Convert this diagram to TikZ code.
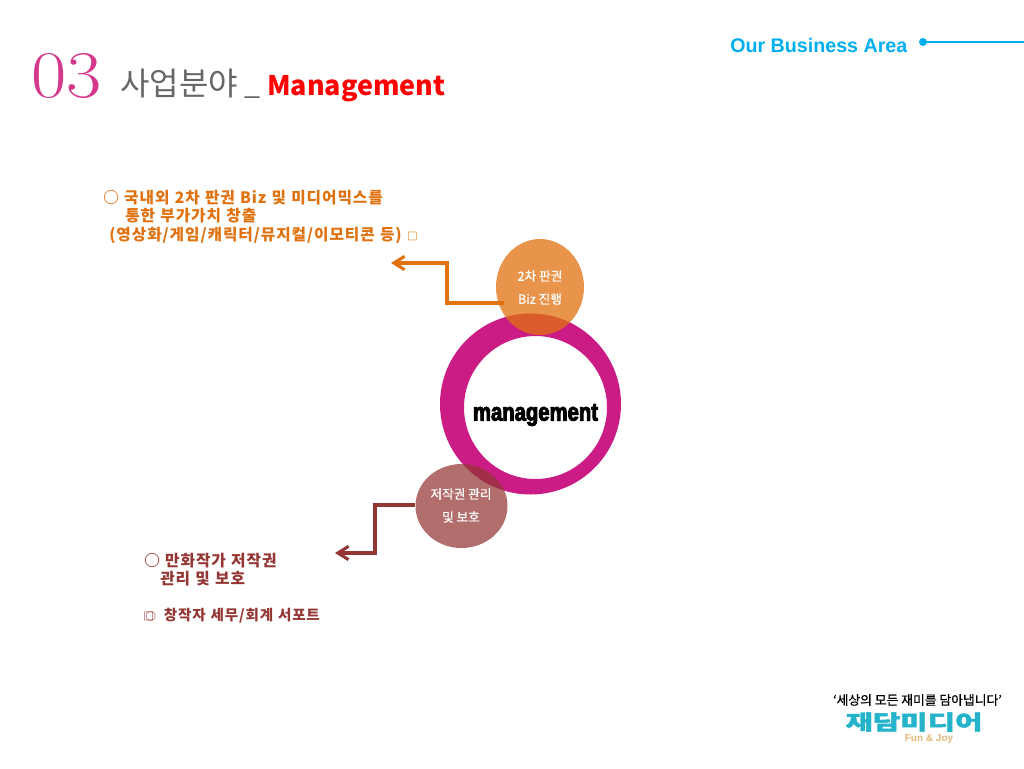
\documentclass[tikz,border=0pt]{standalone}
\usepackage{fontspec}
\usepackage{xcolor}
\usetikzlibrary{arrows.meta}
\newfontfamily\krfont{Noto Sans CJK KR}
\newfontfamily\krwide{Noto Sans CJK KR}[LetterSpace=6,WordSpace=1.15]
\newfontfamily\krwhite{Noto Sans CJK KR}[FakeBold=0.6]
\newfontfamily\krslogan{Noto Sans CJK KR}[FakeBold=0.8]
\newfontfamily\areafont{Liberation Sans}
\newfontfamily\heavyfont{Liberation Sans}[FakeStretch=0.8,FakeBold=3.5]
\newfontfamily\logofont{Noto Sans CJK KR}[FakeStretch=1.44,FakeBold=2]
\definecolor{areablue}{HTML}{00AEEF}
\definecolor{numpink}{HTML}{D4388C}
\definecolor{ringpink}{HTML}{CB1C85}
\definecolor{bizorange}{HTML}{E0710F}
\definecolor{rightsbrown}{HTML}{943634}
\definecolor{logoteal}{HTML}{25B3CB}
\definecolor{logotan}{HTML}{E3B778}
\newcommand{\smallbox}{{\fontsize{8}{9}\selectfont □}}
\tikzset{
    orangetext/.style={anchor=west, inner sep=0pt, text=bizorange, font=\krwide\bfseries\fontsize{11.8}{13}\selectfont},
    browntext/.style={anchor=west, inner sep=0pt, text=rightsbrown, font=\krwide\bfseries\fontsize{11.8}{13}\selectfont},
    whitetext/.style={inner sep=0pt, text=white, font=\krwhite\fontsize{9.5}{11}\selectfont},
    elbow/.style={line width=2.3pt, -{Straight Barb[length=8pt,width=10pt,line width=2.3pt]}}
}
\begin{document}
\begin{tikzpicture}[x=0.75pt,y=-0.75pt]
    \useasboundingbox (0,0) rectangle (1024,768);

    % Heading
    \node[anchor=base west, inner sep=0pt, text=numpink, font=\fontsize{50}{60}\selectfont] (num) at (31,97) {\scalebox{1.15}[1]{03}};
    \node[anchor=base west, inner sep=0pt, text=black!60, font=\krfont\fontsize{24}{28}\selectfont] (title) at (120,95) {사업분야};
    \node[anchor=base west, inner sep=0pt, text=black!60, font=\krfont\fontsize{21.5}{24}\selectfont] (dash) at (244,94) {\_};
    \node[anchor=base west, inner sep=0pt, text=red, font=\krfont\bfseries\fontsize{20.2}{24}\selectfont] (mgmt) at (267,95) {Management};

    % Top right tag
    \node[anchor=base west, inner sep=0pt, text=areablue, font=\areafont\bfseries\fontsize{14.75}{18}\selectfont] (area) at (730,52) {Our Business Area};
    \fill[areablue] (923,42) circle (4) coordinate (areadot);
    \coordinate (areaend) at (1024,42);
    \draw[areablue, line width=1pt] (areadot) -- (areaend);

    % Ring
    \fill[ringpink, even odd rule] (530.5,404) circle (90.5) (535.5,407.5) circle (71.5);
    \node[inner sep=0pt, font=\heavyfont\bfseries\fontsize{19}{22}\selectfont] (center) at (535.5,415) {management};

    % Satellites
    \fill[bizorange, opacity=0.75] (540,287) ellipse (44 and 48);
    \fill[rightsbrown, opacity=0.72] (461.5,506) ellipse (46 and 42);
    \node[whitetext] (biza) at (540,276) {2차 판권};
    \node[whitetext] (bizb) at (540,299) {Biz 진행};
    \node[whitetext] (rightsa) at (461,494) {저작권 관리};
    \node[whitetext] (rightsb) at (461,517) {및 보호};

    % Elbow arrows
    \coordinate (bizstart) at (504,303);
    \coordinate (bizknee) at (447,303);
    \coordinate (bizbend) at (447,263);
    \coordinate (bizend) at (391,263);
    \draw[elbow, bizorange] (bizstart) -- (bizknee) -- (bizbend) -- (bizend);
    \coordinate (rightsstart) at (415,505);
    \coordinate (rightsknee) at (375,505);
    \coordinate (rightsbend) at (375,553);
    \coordinate (rightsend) at (335,553);
    \draw[elbow, rightsbrown] (rightsstart) -- (rightsknee) -- (rightsbend) -- (rightsend);

    % Orange text
    \node[orangetext] (bizlinea) at (103,198) {○ 국내외 2차 판권 Biz 및 미디어믹스를};
    \node[orangetext] (bizlineb) at (125,216) {통한 부가가치 창출};
    \node[orangetext] (bizlinec) at (109,235) {(영상화/게임/캐릭터/뮤지컬/이모티콘 등) \smallbox};

    % Brown text
    \node[browntext] (rightslinea) at (144,561) {○ 만화작가 저작권};
    \node[browntext] (rightslineb) at (160,579) {관리 및 보호};
    \node[browntext, font=\krwide\bfseries\fontsize{10.9}{13}\selectfont] (rightslinec) at (143,616) {\smallbox\hspace{-6.5pt}{\fontsize{8}{9}\selectfont ○}\hspace{6pt}창작자 세무/회계 서포트};

    % Logo
    \node[anchor=center, inner sep=0pt, font=\krslogan\fontsize{9.6}{11}\selectfont] (slogan) at (917.5,700) {‘세상의 모든 재미를 담아냅니다’};
    \node[anchor=center, inner sep=0pt, text=logoteal, font=\logofont\bfseries\fontsize{15.5}{18}\selectfont] (logo) at (914,722) {재담미디어};
    \node[anchor=center, inner sep=0pt, text=logotan, font=\areafont\bfseries\fontsize{7.5}{9}\selectfont] (fun) at (929,739.5) {Fun \& Joy};
\end{tikzpicture}
\end{document}
